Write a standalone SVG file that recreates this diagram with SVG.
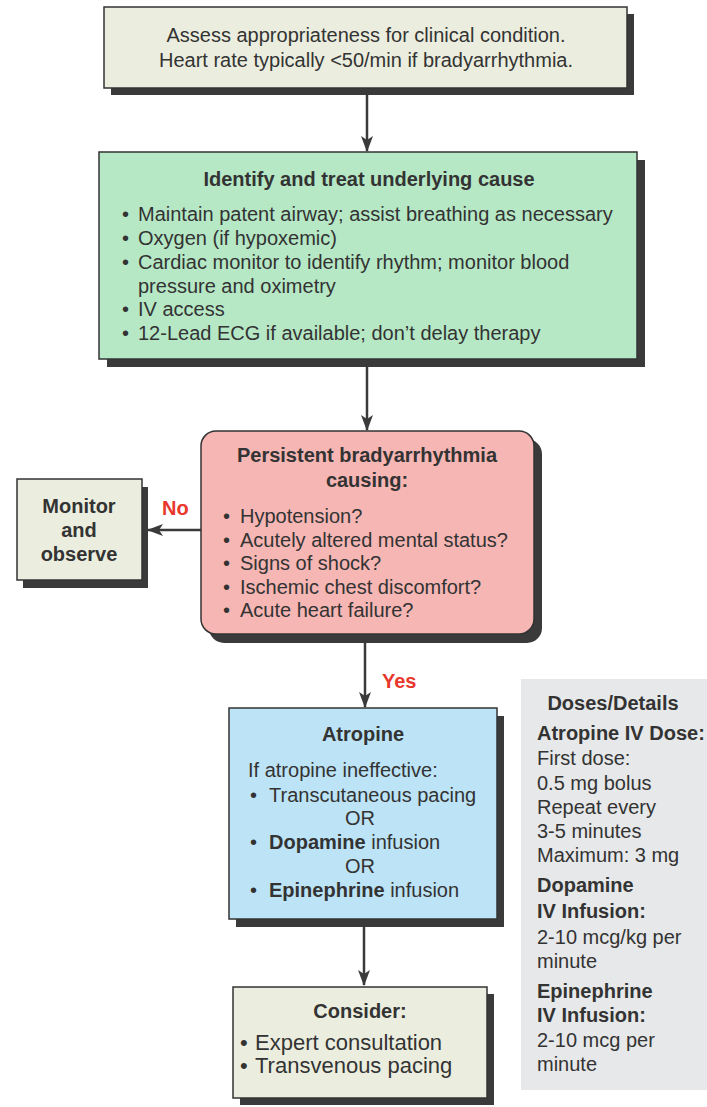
<svg xmlns="http://www.w3.org/2000/svg" width="707" height="1107" viewBox="0 0 707 1107">
<defs>
<style>
text{font-family:"Liberation Sans",Arial,sans-serif;font-size:20px;fill:#333}
.b{font-weight:bold}
.c{text-anchor:middle}
.lg{font-size:22px}
.red{fill:#e8372c;font-weight:bold}
.sh{fill:#3a3a3a}
.box{stroke:#333;stroke-width:1.5}
.beige{fill:#ebeedf}
.green{fill:#b6e8c6}
.pink{fill:#f6b6b4}
.blue{fill:#bde3f6}
.conn{stroke:#3a3a3a;stroke-width:2.5;fill:none}
</style>
<marker id="ah" viewBox="0 0 16 12" refX="15" refY="6" markerWidth="16" markerHeight="12" markerUnits="userSpaceOnUse" orient="auto">
<path d="M0,0 L16,6 L0,12 L4,6 z" fill="#3a3a3a"/>
</marker>
</defs>
<rect width="707" height="1107" fill="#fff"/>

<g id="connectors">
<line class="conn" x1="367" y1="95" x2="367" y2="151" marker-end="url(#ah)"/>
<line class="conn" x1="367" y1="366" x2="367" y2="430" marker-end="url(#ah)"/>
<line class="conn" x1="201" y1="530" x2="148" y2="530" marker-end="url(#ah)"/>
<line class="conn" x1="365" y1="642" x2="365" y2="707" marker-end="url(#ah)"/>
<line class="conn" x1="364" y1="926" x2="364" y2="985" marker-end="url(#ah)"/>
<text class="red" x="162" y="515">No</text>
<text class="red" x="382" y="688">Yes</text>
</g>

<g id="assess">
<rect class="sh" x="111" y="14" width="523" height="81"/>
<rect class="box beige" x="104" y="7" width="523" height="81"/>
<text class="c" x="366" y="42">Assess appropriateness for clinical condition.</text>
<text class="c" x="366" y="67">Heart rate typically &lt;50/min if bradyarrhythmia.</text>
</g>

<g id="identify">
<rect class="sh" x="107" y="160" width="538" height="207"/>
<rect class="box green" x="99" y="152" width="538" height="207"/>
<text class="b c" x="369" y="186">Identify and treat underlying cause</text>
<text x="122" y="221">•</text><text x="138" y="221">Maintain patent airway; assist breathing as necessary</text>
<text x="122" y="245">•</text><text x="138" y="245">Oxygen (if hypoxemic)</text>
<text x="122" y="269">•</text><text x="138" y="269">Cardiac monitor to identify rhythm; monitor blood</text>
<text x="138" y="293">pressure and oximetry</text>
<text x="122" y="316">•</text><text x="138" y="316">IV access</text>
<text x="122" y="340">•</text><text x="138" y="340">12-Lead ECG if available; don’t delay therapy</text>
</g>

<g id="persistent">
<rect class="sh" x="209" y="439" width="333" height="204" rx="15"/>
<rect class="box pink" x="201" y="431" width="333" height="203" rx="15"/>
<text class="b c" x="367" y="462">Persistent bradyarrhythmia</text>
<text class="b c" x="367" y="487">causing:</text>
<text x="223" y="523">•</text><text x="240" y="523">Hypotension?</text>
<text x="223" y="547">•</text><text x="240" y="547">Acutely altered mental status?</text>
<text x="223" y="570">•</text><text x="240" y="570">Signs of shock?</text>
<text x="223" y="594">•</text><text x="240" y="594">Ischemic chest discomfort?</text>
<text x="223" y="617">•</text><text x="240" y="617">Acute heart failure?</text>
</g>

<g id="monitor">
<rect class="sh" x="23" y="487" width="125" height="101"/>
<rect class="box beige" x="17" y="479" width="125" height="101"/>
<text class="b c" x="79" y="513">Monitor</text>
<text class="b c" x="79" y="537">and</text>
<text class="b c" x="79" y="561">observe</text>
</g>

<g id="atropine">
<rect class="sh" x="236" y="716" width="268" height="211"/>
<rect class="box blue" x="229" y="708" width="268" height="211"/>
<text class="b c" x="363" y="741">Atropine</text>
<text x="248" y="777">If atropine ineffective:</text>
<text x="250" y="802">•</text><text x="269" y="802">Transcutaneous pacing</text>
<text class="c" x="360" y="825">OR</text>
<text x="250" y="849">•</text><text x="269" y="849"><tspan class="b">Dopamine</tspan> infusion</text>
<text class="c" x="360" y="873">OR</text>
<text x="250" y="897">•</text><text x="269" y="897"><tspan class="b">Epinephrine</tspan> infusion</text>
</g>

<g id="consider">
<rect class="sh" x="240" y="994" width="254" height="111"/>
<rect class="box beige" x="233" y="987" width="254" height="111"/>
<text class="b c" x="360" y="1018">Consider:</text>
<text class="lg" x="240" y="1050">•</text><text class="lg" x="255" y="1050">Expert consultation</text>
<text class="lg" x="240" y="1073">•</text><text class="lg" x="255" y="1073">Transvenous pacing</text>
</g>

<g id="doses">
<rect x="521" y="679" width="186" height="411" fill="#e7e8e9"/>
<text class="b c" x="613" y="710">Doses/Details</text>
<text class="b" x="537" y="740">Atropine IV Dose:</text>
<text x="537" y="765">First dose:</text>
<text x="537" y="790">0.5 mg bolus</text>
<text x="537" y="814">Repeat every</text>
<text x="537" y="838">3-5 minutes</text>
<text x="537" y="862">Maximum: 3 mg</text>
<text class="b" x="537" y="892">Dopamine</text>
<text class="b" x="537" y="918">IV Infusion:</text>
<text x="537" y="944">2-10 mcg/kg per</text>
<text x="537" y="968">minute</text>
<text class="b" x="537" y="998">Epinephrine</text>
<text class="b" x="537" y="1022">IV Infusion:</text>
<text x="537" y="1047">2-10 mcg per</text>
<text x="537" y="1071">minute</text>
</g>
</svg>
